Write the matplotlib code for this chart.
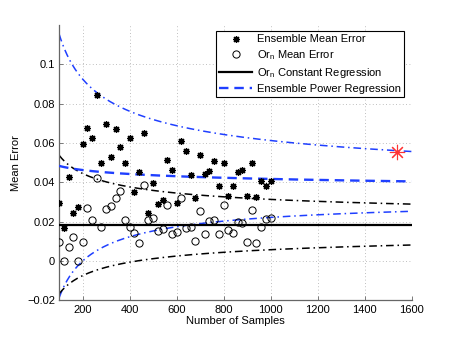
import numpy as np
import matplotlib
matplotlib.use("Agg")
import matplotlib.pyplot as plt

plt.rcParams['font.family'] = ['Liberation Sans', 'DejaVu Sans']
plt.rcParams['mathtext.fontset'] = 'custom'
plt.rcParams['mathtext.rm'] = 'Liberation Sans'
plt.rcParams['mathtext.it'] = 'Liberation Sans:italic'

# ---- data ----
samples = [100, 120, 140, 160, 180, 200, 220, 240, 260, 280, 300, 320, 340, 360, 380,
           400, 420, 440, 460, 480, 500, 520, 540, 560, 580, 600, 620, 640, 660, 680,
           700, 720, 740, 760, 780, 800, 820, 840, 860, 880, 900, 920, 940, 960, 980, 1000]
ensemble_mean_error = [0.0296, 0.0166, 0.0428, 0.0247, 0.0274, 0.0597, 0.0679, 0.0624, 0.0843,
                       0.0499, 0.0697, 0.0530, 0.0673, 0.0580, 0.0499, 0.0624, 0.0352, 0.0453,
                       0.0650, 0.0245, 0.0397, 0.0288, 0.0313, 0.0516, 0.0462, 0.0298, 0.0610,
                       0.0560, 0.0437, 0.0321, 0.0540, 0.0442, 0.0458, 0.0511, 0.0382, 0.0499,
                       0.0330, 0.0382, 0.0453, 0.0463, 0.0330, 0.0499, 0.0325, 0.0406, 0.0384,
                       0.0406]
orn_mean_error = [0.0098, 0.0000, 0.0070, 0.0122, 0.0000, 0.0098, 0.0271, 0.0207, 0.0421,
                  0.0174, 0.0264, 0.0279, 0.0321, 0.0359, 0.0207, 0.0174, 0.0142, 0.0090,
                  0.0389, 0.0207, 0.0217, 0.0152, 0.0162, 0.0283, 0.0136, 0.0147, 0.0321,
                  0.0169, 0.0176, 0.0102, 0.0255, 0.0137, 0.0203, 0.0210, 0.0139, 0.0287,
                  0.0156, 0.0142, 0.0197, 0.0192, 0.0099, 0.0259, 0.0093, 0.0174, 0.0213,
                  0.0218]

# regression parameters
curve_range = [100, 1600]
const_level = 0.0186                 # Or_n constant regression
const_band = [0.267, -0.44]          # half-width  d * x^e
power_fit = [0.065, -0.064]          # ensemble power regression a * x^b
power_band = [0.787, -0.535]         # half-width  d * x^e
extrapolated_point = [1538, 0.0556]

xticks = [200, 400, 600, 800, 1000, 1200, 1400, 1600]
yticks = [-0.02, 0, 0.02, 0.04, 0.06, 0.08, 0.1]
ytick_labels = ['\u22120.02', '0', '0.02', '0.04', '0.06', '0.08', '0.1']

# ---- figure ----
fig = plt.figure(figsize=(4.55, 3.39), dpi=100)
ax = fig.add_axes([0.130, 0.1136, 0.7744, 0.8124])

blue = '#1f3fff'
xc = np.linspace(curve_range[0], curve_range[1], 400)
const_line = np.full_like(xc, const_level)
cb = const_band[0] * xc ** const_band[1]
pw = power_fit[0] * xc ** power_fit[1]
pb = power_band[0] * xc ** power_band[1]

dashdot = (0, (5, 2.5, 1, 2.5))
ax.plot(xc, pw + pb, color=blue, lw=1.1, ls=dashdot, zorder=2)
ax.plot(xc, pw - pb, color=blue, lw=1.1, ls=dashdot, zorder=2)
ax.plot(xc, const_line + cb, color='black', lw=1.1, ls=dashdot, zorder=2)
ax.plot(xc, const_line - cb, color='black', lw=1.1, ls=dashdot, zorder=2)

h1, = ax.plot(samples, ensemble_mean_error, ls='none', marker=(8, 2, 0), ms=5,
              mew=0.9, color='black', label='Ensemble Mean Error', zorder=4)
h2, = ax.plot(samples, orn_mean_error, ls='none', marker='o', ms=5.2, mew=0.7,
              mfc='none', mec='black', label='Or$_\\mathrm{n}$ Mean Error', zorder=4)
h3, = ax.plot(xc, const_line, color='black', lw=1.6,
              label='Or$_\\mathrm{n}$ Constant Regression', zorder=3)
h4, = ax.plot(xc, pw, color=blue, lw=1.7, ls=(0, (4, 2.5)),
              label='Ensemble Power Regression', zorder=3)
ax.plot([extrapolated_point[0]], [extrapolated_point[1]], ls='none', marker=(8, 2, 0),
        ms=11, mew=0.8, color='#ff3333', zorder=5)

ax.set_xlim(100, 1600)
ax.set_ylim(-0.02, 0.12)
ax.set_xticks(xticks)
ax.set_yticks(yticks)
ax.set_yticklabels(ytick_labels)
ax.tick_params(direction='in', length=3, width=0.6, colors='#666666',
               labelcolor='black', labelsize=8, pad=3)
for s in ['top', 'right']:
    ax.spines[s].set_visible(False)
for s in ['left', 'bottom']:
    ax.spines[s].set_color('#666666')
    ax.spines[s].set_linewidth(0.9)
ax.grid(True, color='#aaaaaa', lw=0.6, ls=(0, (1, 3)))
ax.set_axisbelow(True)

ax.set_xlabel('Number of Samples', fontsize=8, labelpad=1)
ax.set_ylabel('Mean Error', fontsize=8, labelpad=4)

leg = ax.legend(handles=[h1, h2, h3, h4], loc='upper right', bbox_to_anchor=(0.979, 0.978),
                borderaxespad=0, fontsize=8, frameon=True, fancybox=False,
                edgecolor='black', framealpha=1, handlelength=3.0, handletextpad=0.4,
                labelspacing=0.35, borderpad=0.3)
leg.get_frame().set_linewidth(0.8)

fig.savefig('out.png', dpi=100)
